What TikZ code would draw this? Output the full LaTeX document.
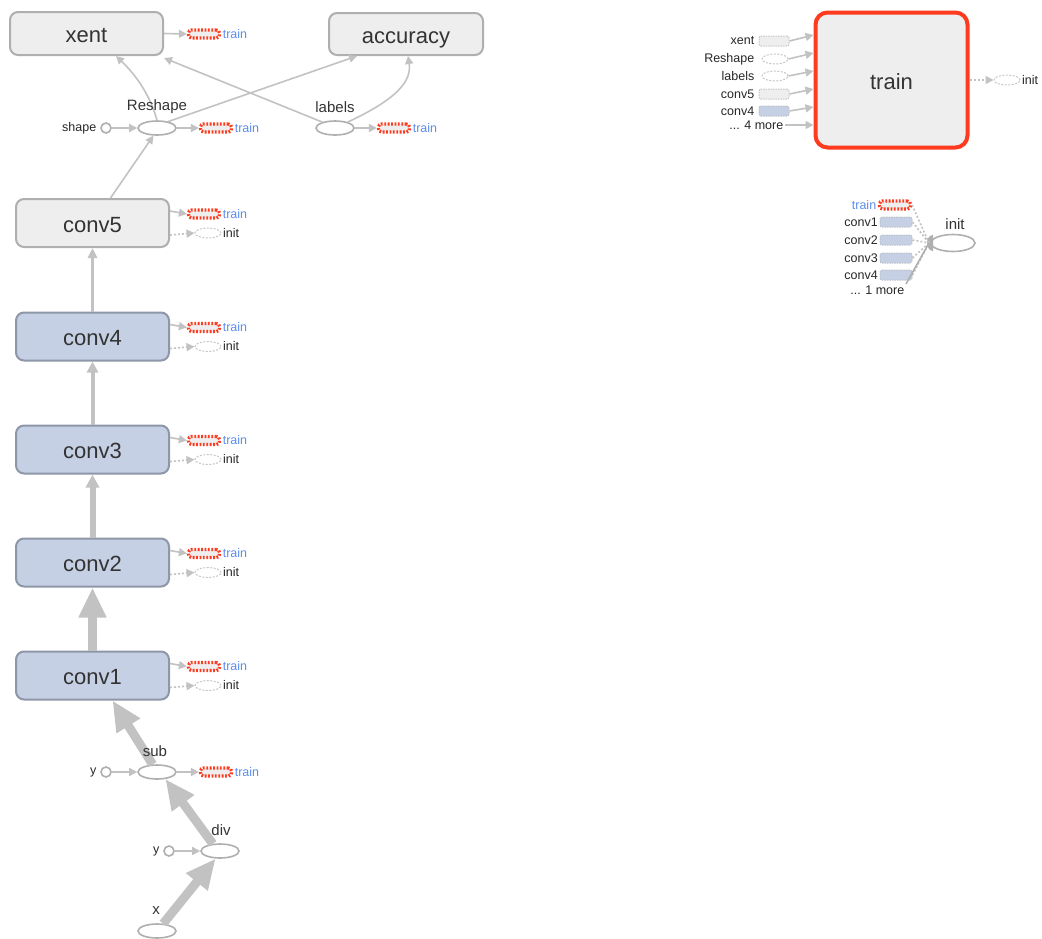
\documentclass[tikz,border=0pt]{standalone}
\usepackage{fontspec}
\setmainfont{Liberation Sans}
\usetikzlibrary{arrows.meta,shapes.geometric}

\definecolor{edgegray}{HTML}{C2C2C2}
\definecolor{boxgray}{HTML}{EEEEEE}
\definecolor{boxline}{HTML}{AFAFAF}
\definecolor{convfill}{HTML}{C5D0E4}
\definecolor{convline}{HTML}{8E97A8}
\definecolor{trainred}{HTML}{FF3B1F}
\definecolor{trainblue}{HTML}{5B8DEF}
\definecolor{textdark}{HTML}{333333}

\tikzset{
  box/.style={rectangle, rounded corners=8pt, draw=boxline, line width=2pt,
    fill=boxgray, minimum width=153pt, minimum height=48pt, inner sep=0pt,
    font=\fontsize{22}{24}\selectfont, text=textdark,
    text height=18pt, text depth=0pt},
  convbox/.style={box, fill=convfill, draw=convline},
  redbox/.style={box, rounded corners=12pt, draw=trainred, line width=4pt,
    minimum width=152pt, minimum height=135pt},
  op/.style={ellipse, draw=boxline, line width=1.6pt, fill=white,
    minimum width=38pt, minimum height=14pt, inner sep=0pt},
  const/.style={circle, draw=boxline, line width=1.6pt, fill=white,
    minimum size=10pt, inner sep=0pt},
  oplabel/.style={font=\fontsize{15}{16}\selectfont, text=textdark, inner sep=0pt},
  small/.style={font=\fontsize{12.5}{13}\selectfont, text=black!85, inner sep=1.5pt},
  tlabel/.style={small, text=trainblue},
  trainicon/.style={rectangle, rounded corners=3pt, draw=trainred, line width=3.2pt,
    dash pattern=on 1.8pt off 1.6pt, fill=boxgray, minimum width=31pt,
    minimum height=8pt, inner sep=0pt},
  initicon/.style={ellipse, draw=boxline!70, line width=1pt,
    dash pattern=on 2pt off 1.5pt, fill=white, minimum width=26pt,
    minimum height=10pt, inner sep=0pt},
  ghostrect/.style={rectangle, rounded corners=2pt, draw=boxline!70, line width=1pt,
    dash pattern=on 1.5pt off 1pt, fill=boxgray, minimum width=30pt,
    minimum height=10pt, inner sep=0pt},
  ghostconv/.style={ghostrect, fill=convfill, draw=convline!60},
  ghostop/.style={initicon},
  edge/.style={draw=edgegray, line width=1.6pt, -{Triangle[width=8pt,length=8pt]}},
  dotedge/.style={edge, dash pattern=on 2pt off 2pt},
  dotline/.style={draw=edgegray, line width=1.6pt, dash pattern=on 2pt off 2pt},
  heavy/.style={draw=edgegray, line width=9pt, -{Triangle[width=26pt,length=30pt]}},
}

\begin{document}
\begin{tikzpicture}[x=1pt,y=-1pt]
\useasboundingbox (0,0) rectangle (1042,938);

% ---------- output layer ----------
\node[box, minimum height=43pt] (xent) at (86.5,33.5) {xent};
\node[box, minimum width=154pt, minimum height=42pt] (acc) at (406,34) {accuracy};
\node[trainicon] (xentT) at (204,34) {};
\node[tlabel, anchor=west] (xentTl) at (xentT.east) {train};
\draw[edge] (xent.east) -- (xentT.west);

% Reshape and labels
\node[op] (reshape) at (157,128) {};
\node[const] (shape) at (106,128) {};
\node[small, anchor=east] (shapeL) at (98,128) {shape};
\draw[edge] (shape) -- (reshape);
\node[trainicon] (reshapeT) at (216,128) {};
\node[tlabel, anchor=west] (reshapeTl) at (reshapeT.east) {train};
\draw[edge] (reshape) -- (reshapeT);

\node[op] (labels) at (335,128) {};
\node[trainicon] (labelsT) at (394,128) {};
\node[tlabel, anchor=west] (labelsTl) at (labelsT.east) {train};
\draw[edge] (labels) -- (labelsT);

% edges into xent and accuracy
\draw[edge] (reshape.north) .. controls (150,95) and (136,75) .. ([xshift=29.5pt]xent.south);
\draw[edge] (reshape.30) -- ([xshift=-49pt]acc.south);
\draw[edge] (labels.155) -- ([yshift=-2pt]xent.south east);
\draw[edge] (labels.25) .. controls (395,100) and (412,82) .. ([xshift=2pt]acc.south);

\node[oplabel] (reshapeL) at (157,107) {Reshape};
\node[oplabel] (labelsL) at (335,107) {labels};

% ---------- convolution stack ----------
\foreach \n/\c/\s in {5/223/box, 4/336.5/convbox, 3/449.5/convbox, 2/562.5/convbox, 1/675.5/convbox}{
  \node[\s] (conv\n) at (92.5,\c) {conv\n};
  \node[trainicon] (conv\n T) at (204,\c-9) {};
  \node[tlabel, anchor=west] (conv\n Tl) at (conv\n T.east) {train};
  \node[initicon] (conv\n I) at (208,\c+10) {};
  \node[small, anchor=west] (conv\n Il) at (conv\n I.east) {init};
  \draw[edge] ([yshift=12pt]conv\n.east) -- (conv\n T.west);
  \draw[dotedge] ([yshift=-12pt]conv\n.east) -- (conv\n I.west);
}

\draw[edge] ([xshift=18pt]conv5.north) -- (reshape.-115);
\draw[edge, line width=3pt, -{Triangle[width=9pt,length=10pt]}] (conv4.north) -- (conv5.south);
\draw[edge, line width=4pt, -{Triangle[width=11pt,length=11pt]}] (conv3.north) -- (conv4.south);
\draw[edge, line width=6pt, -{Triangle[width=13pt,length=13pt]}] (conv2.north) -- (conv3.south);
\draw[heavy] (conv1.north) -- (conv2.south);

% ---------- input pipeline ----------
\node[op] (sub) at (157,772) {};
\node[const] (y1) at (106,772) {};
\node[small, anchor=east] (y1L) at (98,772) {y};
\draw[edge] (y1) -- (sub);
\node[trainicon] (subT) at (216,772) {};
\node[tlabel, anchor=west] (subTl) at (subT.east) {train};
\draw[edge] (sub) -- (subT);

\node[op] (div) at (220,851) {};
\node[const] (y2) at (169,851) {};
\node[small, anchor=east] (y2L) at (161,851) {y};
\draw[edge] (y2) -- (div);

\node[op] (x) at (157,931) {};

\draw[heavy] (x.50) -- (div.-120);
\draw[heavy] (div.135) -- (sub.-40);
\draw[heavy] (sub.120) -- ([xshift=20pt]conv1.south);

% op names are set on top of the edges
\node[oplabel] (subL) at (155,751) {sub};
\node[oplabel] (divL) at (221,830) {div};
\node[oplabel] (xL) at (156,911) {x};

% ---------- train ----------
\node[redbox] (train) at (891.5,80) {train};

\node[small, anchor=east] (inXentL) at (756,41) {xent};
\node[ghostrect] (inXent) at (774,41) {};
\node[small, anchor=east] (inReshapeL) at (756,59) {Reshape};
\node[ghostop] (inReshape) at (775,59) {};
\node[small, anchor=east] (inLabelsL) at (756,76) {labels};
\node[ghostop] (inLabels) at (775,76) {};
\node[small, anchor=east] (inConv5L) at (756,94) {conv5};
\node[ghostrect] (inConv5) at (774,94) {};
\node[small, anchor=east] (inConv4L) at (756,111) {conv4};
\node[ghostconv] (inConv4) at (774,111) {};
\node[small, anchor=east] (inMore) at (785,125) {... 4 more};

\draw[edge] (inXent.east) -- ([yshift=45pt]train.west);
\draw[edge] (inReshape.east) -- ([yshift=27pt]train.west);
\draw[edge] (inLabels.east) -- ([yshift=9pt]train.west);
\draw[edge] (inConv5.east) -- ([yshift=-9pt]train.west);
\draw[edge] (inConv4.east) -- ([yshift=-27pt]train.west);
\draw[edge] (inMore.east) -- ([yshift=-45pt]train.west);

\node[initicon] (trainI) at (1007,80) {};
\node[small, anchor=west] (trainIl) at (trainI.east) {init};
\draw[dotedge] (train.east) -- (trainI.west);

% ---------- init ----------
\node[op, minimum width=44pt, minimum height=17pt] (init) at (953,243) {};
\node[oplabel] (initL) at (955,224) {init};
\coordinate (fan) at (929,243);
\fill[boxline] (933,235) arc[start angle=270, end angle=90, x radius=6, y radius=8] -- cycle;

\node[trainicon] (iTrain) at (895,205) {};
\node[tlabel, anchor=east] (iTrainL) at (iTrain.west) {train};
\foreach \k/\yy in {1/222, 2/240, 3/258, 4/275}{
  \node[ghostconv, minimum width=32pt] (iConv\k) at (896,\yy) {};
  \node[small, anchor=east] (iConv\k L) at (iConv\k.west) {conv\k};
  \draw[dotline] (iConv\k.east) -- (fan);
}
\draw[dotline] (iTrain.east) -- (fan);
\node[small, anchor=east] (iMore) at (906,290) {... 1 more};
\draw[draw=boxline, line width=1.6pt] (iMore.north east) -- (fan);
\end{tikzpicture}
\end{document}
